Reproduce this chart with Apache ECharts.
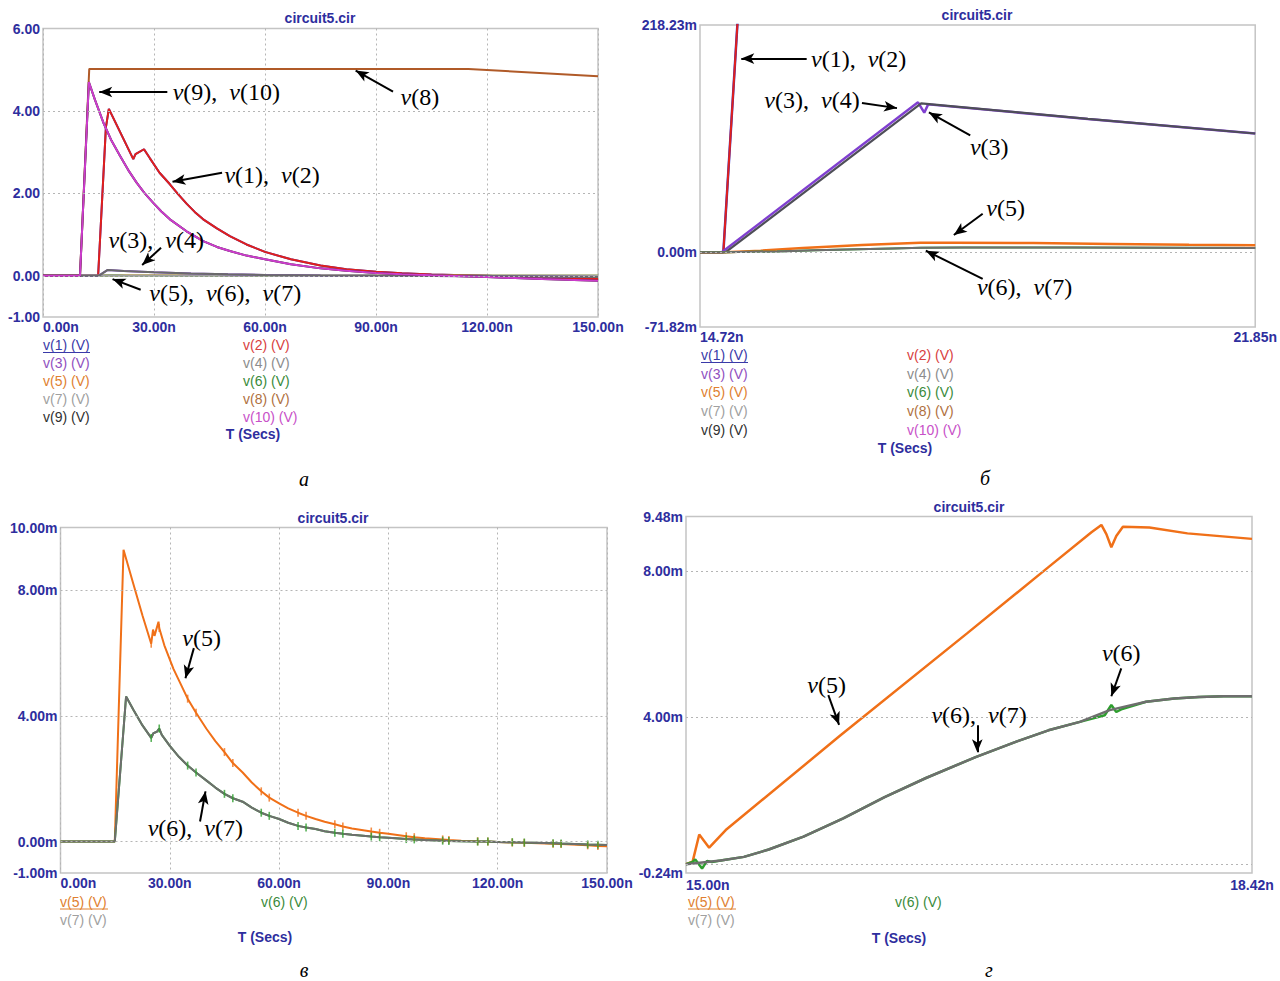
<!DOCTYPE html>
<html><head><meta charset="utf-8">
<script src="https://cdn.jsdelivr.net/npm/echarts@6/dist/echarts.min.js"></script>
<style>html,body{margin:0;padding:0;background:#fff}#c{width:1280px;height:981px}</style>
</head><body><div id="c"></div>
<script>
// ================= DATA =================
// Panel а : time (ns), voltage (V)
const aXTicks = [0, 30, 60, 90, 120, 150];
const aYTicks = [-1, 0, 2, 4, 6];
const aGridY = [0, 2, 4];
const a_v1v2 = [[0,0],[14.9,0],[17.0,3.6],[17.8,4.05],[24.4,2.83],[25.0,2.95],[27.3,3.07],[28.9,2.85],[31.5,2.5],[34.3,2.22],[36.5,1.98],[38.8,1.75],[41,1.55],[43.3,1.37],[47,1.15],[50.5,0.96],[55,0.76],[60,0.58],[67,0.4],[75,0.25],[82,0.16],[90,0.1],[97,0.06],[105,0.03],[120,0.0],[135,-0.05],[150,-0.08]];
const a_v3v4 = [[0,0],[15.0,0],[17.5,0.143],[21.85,0.114],[30,0.085],[40,0.055],[50,0.035],[60,0.02],[75,0.008],[90,0],[120,-0.01],[150,-0.03]];
const a_v8 = [[0,0],[10.0,0],[12.5,5.02],[115,5.02],[150,4.84]];
const a_v9v10 = [[0,0],[10.0,0],[12.4,4.70],[14.0,4.28],[16.3,3.72],[18.5,3.28],[20.8,2.91],[23.0,2.57],[25.3,2.26],[27.5,2.0],[29.8,1.77],[32.0,1.56],[34.3,1.37],[38.8,1.08],[43.3,0.84],[47,0.7],[50.5,0.60],[55,0.49],[60,0.4],[67,0.28],[75,0.18],[82,0.12],[90,0.07],[97,0.04],[105,0.01],[120,-0.03],[135,-0.08],[150,-0.12]];

// Panel б : time (ns), voltage (mV)
const bXTicks = [14.72, 21.85];
const bYTicks = [-71.82, 0, 218.23];
const bGridY = [0];
const b_v1v2 = [[14.72,0],[15.02,0],[15.30,340]];
const b_v3 = [[14.72,0],[15.0,0],[17.52,144],[17.6,134],[17.65,142],[19.7,128],[21.85,114]];
const b_v4 = [[14.72,0],[15.05,0],[17.56,143],[19.7,128],[21.85,114]];
const b_v5 = [[14.72,0],[15.05,0],[15.5,1.5],[16.04,4.0],[16.8,7.0],[17.55,9.2],[18.0,9.2],[19.0,8.8],[20.0,8.0],[21.0,7.2],[21.85,6.8]];
const b_v6v7 = [[14.72,0],[15.05,0],[15.71,0.8],[16.2,1.8],[16.75,2.9],[17.19,3.65],[17.56,4.2],[18.1,4.56],[18.42,4.58],[19.5,4.5],[21.85,4.0]];

// Panel в : time (ns), voltage (mV)
const cXTicks = [0, 30, 60, 90, 120, 150];
const cYTicks = [-1, 0, 4, 8, 10];
const cGridY = [0, 4, 8];
const c_v5 = [[0,0],[14.9,0],[17.3,9.29],[20.0,8.2],[22.5,7.2],[24.9,6.3],[25.4,6.75],[25.8,6.55],[26.9,7.0],[27.1,6.8],[28.5,6.25],[31.0,5.5],[34.9,4.55],[37.2,4.1],[40.0,3.6],[42.5,3.2],[45.0,2.85],[47.3,2.5],[50.0,2.2],[52.5,1.88],[55.1,1.6],[57.3,1.4],[60,1.22],[62.5,1.06],[65.2,0.92],[67.4,0.82],[70,0.72],[72.5,0.63],[75.3,0.55],[77.5,0.48],[80,0.42],[85.3,0.32],[87.6,0.28],[90,0.25],[94.9,0.17],[97.1,0.14],[100,0.11],[104.9,0.07],[106.6,0.05],[110,0.03],[114.5,0.01],[117.3,0],[120,-0.01],[124,-0.03],[127.3,-0.04],[135.2,-0.07],[137.4,-0.08],[144.7,-0.12],[147.5,-0.14],[150,-0.15]];
const c_v6v7 = [[0,0],[14.9,0],[18.0,4.62],[20,4.2],[22.5,3.7],[24.9,3.3],[25.5,3.45],[26.5,3.5],[27.1,3.6],[27.8,3.4],[30,3.05],[32.5,2.7],[34.9,2.42],[37.2,2.2],[40,1.95],[42.5,1.72],[45.0,1.52],[47.3,1.38],[50,1.27],[52.5,1.08],[55.1,0.92],[57.3,0.82],[60,0.72],[62.5,0.6],[65.2,0.5],[67.4,0.45],[70,0.4],[72.5,0.33],[75.3,0.28],[77.5,0.25],[80,0.22],[85.3,0.16],[87.6,0.14],[90,0.12],[94.9,0.08],[97.1,0.07],[100,0.05],[104.9,0.03],[106.6,0.02],[110,0.01],[114.5,0],[117.3,0],[120,-0.01],[124,-0.02],[127.3,-0.03],[135.2,-0.05],[137.4,-0.06],[144.7,-0.09],[147.5,-0.1],[150,-0.11]];
const cTickTimes = [24.9,27.1,34.9,37.2,45.0,47.3,55.1,57.3,65.2,67.4,75.3,77.5,85.3,87.6,94.9,97.1,104.9,106.6,114.5,117.3,124,127.3,135.2,137.4,144.7,147.5];

// Panel г : time (ns), voltage (mV)
const dXTicks = [15.00, 18.42];
const dYTicks = [-0.24, 4, 8, 9.48];
const dGridY = [0, 4, 8];
const d_v5 = [[15.0,0.0],[15.04,0.07],[15.08,0.81],[15.14,0.45],[15.24,0.93],[15.93,3.5],[16.7,6.3],[17.19,8.1],[17.45,9.05],[17.51,9.25],[17.54,9.0],[17.57,8.64],[17.6,8.95],[17.64,9.2],[17.8,9.18],[18.03,9.02],[18.42,8.87]];
const d_v6 = [[15.0,0.0],[15.04,0.06],[15.056,0.13],[15.097,-0.12],[15.127,0.09],[15.157,0.06],[15.21,0.1],[15.35,0.2],[15.5,0.4],[15.71,0.75],[15.95,1.25],[16.2,1.83],[16.45,2.35],[16.75,2.92],[17.0,3.35],[17.19,3.65],[17.38,3.88],[17.53,4.06],[17.57,4.34],[17.60,4.15],[17.63,4.22],[17.78,4.43],[17.95,4.52],[18.1,4.56],[18.25,4.58],[18.42,4.58]];
const d_v7 = [[15.0,0.0],[15.21,0.1],[15.35,0.2],[15.5,0.4],[15.71,0.75],[15.95,1.25],[16.2,1.83],[16.45,2.35],[16.75,2.92],[17.0,3.35],[17.19,3.65],[17.38,3.88],[17.56,4.2],[17.78,4.43],[17.95,4.52],[18.1,4.56],[18.25,4.58],[18.42,4.58]];

// ================= STYLE =================
const LC = {v1:'#3030c8', v2:'#e0201c', v3:'#8040d0', v4:'#6a6a6a', v5:'#f07018', v6:'#2f9e2f', v7:'#6e6e6e', v8:'#b05a28', v9:'#202020', v10:'#cc3ccc'};
const TC = {v1:'#3a3aa8', v2:'#d84040', v3:'#9050c0', v4:'#8c8c8c', v5:'#e08030', v6:'#3a8a3a', v7:'#a0a0a0', v8:'#b07040', v9:'#303030', v10:'#c850c8'};
const BLUE = '#2e2e9e';
const SANS = '"Liberation Sans", Arial, sans-serif';
const SERIF = '"Liberation Serif", "Times New Roman", serif';
const NOTE_SIZE = 24;

const grids = [
  {left:43, top:28.5, width:555, height:288.5},
  {left:700, top:25, width:555.5, height:302},
  {left:60.5, top:527.5, width:546.5, height:345.5},
  {left:686, top:516.5, width:566, height:356.5}
].map(g => Object.assign(g, {show:true, borderColor:'#c4c4c4', borderWidth:1.5, backgroundColor:'#fff', containLabel:false}));

function xAx(gi, min, max, interval, custom, margin) {
  const ax = {type:'value', gridIndex:gi, min, max,
    axisLine:{show:false}, axisTick:{show:false},
    splitLine:{show: interval != null, lineStyle:{color:'#b5b5b5', width:1, type:[2,3]}},
    axisLabel:{color:BLUE, fontSize:14, fontWeight:'bold', fontFamily:'Liberation Sans', margin:margin,
      formatter: v => v.toFixed(2) + 'n', customValues: custom, alignMinLabel:'left', showMinLabel:true, showMaxLabel:true}};
  if (interval != null) ax.interval = interval;
  return ax;
}
function yAx(gi, min, max, custom, suffix) {
  return {type:'value', gridIndex:gi, min, max,
    axisLine:{show:false}, axisTick:{show:false}, splitLine:{show:false},
    axisLabel:{color:BLUE, fontSize:14, fontWeight:'bold', fontFamily:'Liberation Sans', margin:3,
      formatter: v => v.toFixed(2) + suffix, customValues: custom, showMinLabel:true, showMaxLabel:true}};
}

const xAxes = [xAx(0, 0, 150, 30, aXTicks, 3), xAx(1, 14.72, 21.85, null, bXTicks, 3), xAx(2, 0, 150, 30, cXTicks, 3), xAx(3, 15.00, 18.42, null, dXTicks, 5)];
const yAxes = [yAx(0, -1, 6, aYTicks, ''), yAx(1, -71.82, 218.23, bYTicks, 'm'), yAx(2, -1, 10, cYTicks, 'm'), yAx(3, -0.24, 9.48, dYTicks, 'm')];

const S = [];
function addLine(gi, name, data, color, width) {
  S.push({type:'line', name, xAxisIndex:gi, yAxisIndex:gi, data, showSymbol:false, symbol:'none',
    lineStyle:{color, width}, itemStyle:{color}, z:2, animation:false, silent:true, clip:true});
}
function addTicks(gi, data, color) {
  S.push({type:'scatter', xAxisIndex:gi, yAxisIndex:gi, data, symbol:'rect', symbolSize:[1.6, 8],
    itemStyle:{color}, z:3, animation:false, silent:true});
}
function addGridLines(gi, vals) {
  S.push({type:'line', xAxisIndex:gi, yAxisIndex:gi, data:[], z:1, silent:true, animation:false,
    markLine:{silent:true, animation:false, symbol:['none','none'], label:{show:false},
      lineStyle:{color:'#b5b5b5', width:1, type:[2,3]}, data: vals.map(v => ({yAxis:v}))}});
}
function addNotes(gi, notes) {
  S.push({type:'line', xAxisIndex:gi, yAxisIndex:gi, data:[], z:20, silent:true, animation:false,
    markLine:{silent:true, animation:false, symbol:['none','arrow'], symbolSize:[8,13], label:{show:false},
      lineStyle:{color:'#000', width:2, type:'solid'}, emphasis:{disabled:true},
      data: notes.map(n => [{coord:n.from}, {coord:n.to}])},
    markPoint:{silent:true, animation:false, symbol:'circle', symbolSize:1, itemStyle:{color:'rgba(0,0,0,0)'},
      label:{show:true, position:'right', distance:0, color:'#000', fontFamily:'Liberation Serif', fontSize:NOTE_SIZE,
        rich:{i:{fontStyle:'italic', fontFamily:'Liberation Serif', fontSize:NOTE_SIZE, color:'#000'}}},
      data: notes.map(n => ({coord:n.at, label:{formatter:n.text}}))}});
}
const mV = arr => arr.map(p => [p[0], p[1] / 1000]);
const toMV = arr => arr.map(p => [p[0], p[1] * 1000]);

// ---- panel а
addGridLines(0, aGridY);
addLine(0, 'v(1)', a_v1v2, LC.v1, 2);
addLine(0, 'v(2)', a_v1v2, LC.v2, 2);
addLine(0, 'v(5)', mV(c_v5), LC.v5, 2);
addLine(0, 'v(6)', mV(c_v6v7), LC.v6, 2);
addLine(0, 'v(7)', mV(c_v6v7), '#a0a0a0', 2);
addLine(0, 'v(3)', a_v3v4, LC.v3, 2);
addLine(0, 'v(4)', a_v3v4, LC.v4, 2);
addLine(0, 'v(8)', a_v8, LC.v8, 2);
addLine(0, 'v(9)', a_v9v10, LC.v9, 2);
addLine(0, 'v(10)', a_v9v10, LC.v10, 2);
addNotes(0, [
  {text:'{i|v}(9),  {i|v}(10)', at:[34.9, 4.46], from:[33.6, 4.46], to:[15.2, 4.46]},
  {text:'{i|v}(8)', at:[96.5, 4.34], from:[94.6, 4.47], to:[84.5, 4.98]},
  {text:'{i|v}(1),  {i|v}(2)', at:[48.9, 2.44], from:[48.4, 2.5], to:[35.0, 2.28]},
  {text:'{i|v}(3),  {i|v}(4)', at:[17.6, 0.88], from:[31.9, 0.68], to:[26.8, 0.26]},
  {text:'{i|v}(5),  {i|v}(6),  {i|v}(7)', at:[28.6, -0.41], from:[26.4, -0.34], to:[18.8, -0.08]}
]);

// ---- panel б
addGridLines(1, bGridY);
addLine(1, 'v(1)', b_v1v2, LC.v1, 2.5);
addLine(1, 'v(2)', b_v1v2, LC.v2, 2);
addLine(1, 'v(3)', b_v3, LC.v3, 2.5);
addLine(1, 'v(4)', b_v4, '#4e4e58', 2.2);
addLine(1, 'v(5)', b_v5, LC.v5, 2.5);
addLine(1, 'v(6)', b_v6v7, LC.v6, 2);
addLine(1, 'v(7)', b_v6v7, LC.v7, 2);
addLine(1, 'v(8)', toMV(a_v8), LC.v8, 2);
addLine(1, 'v(9)', toMV(a_v9v10), LC.v9, 2);
addLine(1, 'v(10)', toMV(a_v9v10), LC.v10, 2);
addNotes(1, [
  {text:'{i|v}(1),  {i|v}(2)', at:[16.14, 186], from:[16.09, 186], to:[15.25, 186]},
  {text:'{i|v}(3),  {i|v}(4)', at:[15.54, 146], from:[16.80, 143.3], to:[17.25, 138.4]},
  {text:'{i|v}(3)', at:[18.18, 101], from:[18.19, 112.2], to:[17.66, 134.2]},
  {text:'{i|v}(5)', at:[18.39, 42], from:[18.35, 36.9], to:[17.98, 16.5]},
  {text:'{i|v}(6),  {i|v}(7)', at:[18.27, -33.7], from:[18.35, -25.6], to:[17.62, 1.5]}
]);

// ---- panel в
addGridLines(2, cGridY);
addLine(2, 'v(5)', c_v5, LC.v5, 2);
addTicks(2, c_v5.filter(p => cTickTimes.includes(p[0])), LC.v5);
addLine(2, 'v(6)', c_v6v7, LC.v6, 2);
addLine(2, 'v(7)', c_v6v7, LC.v7, 2);
addTicks(2, c_v6v7.filter(p => cTickTimes.includes(p[0])), LC.v6);
addNotes(2, [
  {text:'{i|v}(5)', at:[33.3, 6.48], from:[36.6, 6.16], to:[34.3, 5.2]},
  {text:'{i|v}(6),  {i|v}(7)', at:[23.8, 0.43], from:[38.3, 0.64], to:[39.8, 1.6]}
]);

// ---- panel г
addGridLines(3, dGridY);
addLine(3, 'v(5)', d_v5, LC.v5, 2.5);
addLine(3, 'v(6)', d_v6, LC.v6, 2.5);
addLine(3, 'v(7)', d_v7, LC.v7, 2.5);
addNotes(3, [
  {text:'{i|v}(5)', at:[15.73, 4.88], from:[15.86, 4.61], to:[15.925, 3.8]},
  {text:'{i|v}(6),  {i|v}(7)', at:[16.48, 4.06], from:[16.76, 3.79], to:[16.76, 3.05]},
  {text:'{i|v}(6)', at:[17.51, 5.75], from:[17.63, 5.34], to:[17.57, 4.58]}
]);

// ================= TEXT (titles, legends, axis names, captions) =================
const G = [];
function txt(x, y, text, color, align, font) {
  G.push({type:'text', x, y, silent:true, z:50,
    style:{text, fill:color, font: font || ('14px ' + SANS), textAlign: align || 'left', textVerticalAlign:'middle', align: align || 'left', verticalAlign:'middle'}});
}
function uline(x1, x2, y, color) {
  G.push({type:'line', silent:true, z:50, shape:{x1, y1:y, x2, y2:y}, style:{stroke:color, lineWidth:1}});
}
const legendAll = [['v1','v2'],['v3','v4'],['v5','v6'],['v7','v8'],['v9','v10']];
const legendPair = [['v5','v6'],['v7']];
const lab = k => 'v(' + k.slice(1) + ') (V)';
function legend(rows, xs, y0, dy) {
  rows.forEach((r, i) => r.forEach((k, j) => txt(xs[j], y0 + i * dy, lab(k), TC[k])));
}
const BOLD = 'bold 14px ' + SANS;
// titles
txt(320, 18, 'circuit5.cir', BLUE, 'center', BOLD);
txt(977, 15, 'circuit5.cir', BLUE, 'center', BOLD);
txt(333, 518, 'circuit5.cir', BLUE, 'center', BOLD);
txt(969, 507, 'circuit5.cir', BLUE, 'center', BOLD);
// legends
legend(legendAll, [43, 243], 345, 18);
uline(43, 90, 352.5, TC.v1);
legend(legendAll, [701, 907], 355, 18.7);
uline(701, 748, 362.5, TC.v1);
legend(legendPair, [60, 261], 902, 17.5);
uline(60, 108, 909, TC.v5);
legend(legendPair, [688, 895], 902, 17.5);
uline(688, 736, 909, TC.v5);
// axis names
txt(253, 434, 'T (Secs)', BLUE, 'center', BOLD);
txt(905, 448, 'T (Secs)', BLUE, 'center', BOLD);
txt(265, 937, 'T (Secs)', BLUE, 'center', BOLD);
txt(899, 938, 'T (Secs)', BLUE, 'center', BOLD);
// captions
const CAP = 'italic 20px ' + SERIF;
txt(304, 479, 'а', '#000', 'center', CAP);
txt(985, 478, 'б', '#000', 'center', CAP);
txt(304, 970, 'в', '#000', 'center', CAP);
txt(989, 970, 'г', '#000', 'center', CAP);

const chart = echarts.init(document.getElementById('c'), null, {renderer:'svg', width:1280, height:981});
chart.setOption({
  animation:false,
  backgroundColor:'#fff',
  textStyle:{fontFamily:'Liberation Sans'},
  grid: grids,
  xAxis: xAxes,
  yAxis: yAxes,
  series: S,
  graphic: {elements: G}
});
</script>
</body></html>
